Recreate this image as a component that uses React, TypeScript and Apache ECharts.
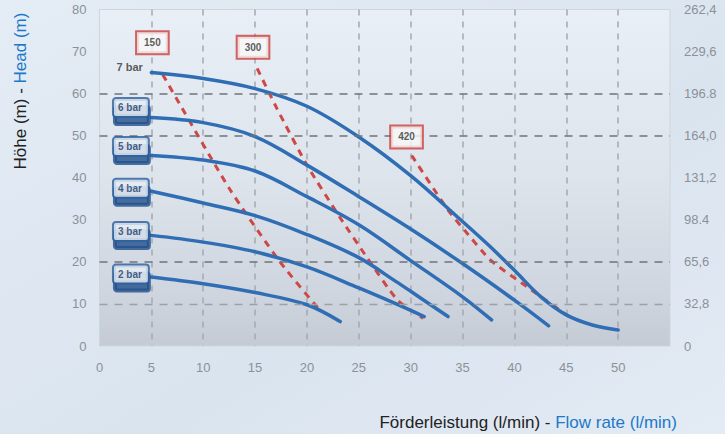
import React, { useEffect, useRef } from "react";
import * as echarts from "echarts";

// ---- data ----
const barNames = ["7 bar", "6 bar", "5 bar", "4 bar", "3 bar", "2 bar"];
const bar7 = [[5, 65], [10, 63.6], [15, 61.2], [20, 57], [25, 49.7], [30, 40.5], [35, 29.6], [37.5, 24], [40, 18], [42.5, 11.8], [45, 7.4], [47.5, 5], [50, 3.8]];
const bar6 = [[5, 54.3], [10, 53.1], [15, 49.8], [20, 43], [25, 35.5], [30, 27.8], [35, 19.6], [40, 10.9], [43.3, 4.8]];
const bar5 = [[5, 45.3], [10, 44.2], [15, 41.6], [20, 35.5], [25, 28.8], [30, 20.3], [35, 11.7], [37.8, 6.2]];
const bar4 = [[5, 36.8], [10, 34], [15, 31], [20, 26.5], [25, 21], [28.6, 15.3], [30, 13], [33.6, 7]];
const bar3 = [[5, 26.3], [10, 24.7], [15, 22.4], [20, 18.8], [25, 13.8], [28.6, 10], [31.3, 7]];
const bar2 = [[5, 16.4], [10, 14.8], [15, 12.7], [20, 9.8], [23.2, 5.8]];
const curves = [bar7, bar6, bar5, bar4, bar3, bar2];

const air150 = [[6.1, 64.5], [12.5, 37.5], [17.4, 20], [21.4, 8]];
const air300 = [[15.2, 66], [17.1, 56.5], [20, 43], [23.2, 30.5], [25.8, 21], [28.7, 11], [31.2, 6.6]];
const air420 = [[30.1, 45.3], [33.6, 32.3], [35.2, 27.5], [37.7, 20.4], [41.2, 14.1], [45.7, 6.2]];
const airLines = [air150, air300, air420];

const airLabels = ["150", "300", "420"];
const airLabelX = [5.1, 14.8, 29.6];
const airLabelY = [72.1, 71, 49.7];

const headFeet = ["0", "32,8", "65,6", "98.4", "131,2", "164,0", "196.8", "229,6", "262,4"];
const darkGridY = [20, 50, 60];
const lightGridY = [10];

// ---- style ----
const FONT = "'Liberation Sans', Arial, sans-serif";
const BLUE = "#2f6eb4";
const RED = "#cf4747";
const TICK = "#8b9198";
const badgeLift = [6, 10, 9, 3, 4, 3];

export default function App() {
  const ref = useRef<HTMLDivElement>(null);
  useEffect(() => {
    document.body.style.margin = "0";
    const chart = echarts.init(ref.current!, null, { renderer: "svg" });

    const curveSeries = curves.map((c, i) => ({
      type: "line",
      name: barNames[i],
      data: c,
      smooth: 0.35,
      showSymbol: false,
      symbol: "none",
      z: 4,
      lineStyle: { color: BLUE, width: 3.5, cap: "round" },
    }));

    const airSeries = airLines.map((c) => ({
      type: "line",
      data: c,
      smooth: 0.2,
      showSymbol: false,
      symbol: "none",
      z: 3,
      lineStyle: { color: RED, width: 3, type: [7, 6] },
    }));

    const badgeData = curves.map((c, i) => {
      const first = c[0];
      const plain = i === 0;
      return {
        value: first,
        label: plain
          ? {
              show: true,
              position: "left",
              distance: 8,
              offset: [0, -badgeLift[i]],
              formatter: barNames[i],
              color: "#333",
              fontSize: 11,
              fontWeight: "bold",
              fontFamily: FONT,
            }
          : {
              show: true,
              position: "left",
              distance: 3,
              offset: [0, -badgeLift[i]],
              formatter: barNames[i],
              color: "#173b6c",
              fontSize: 10,
              fontWeight: "bold",
              fontFamily: FONT,
              backgroundColor: "#e6edf5",
              borderColor: "#2c5f9e",
              borderWidth: 2,
              borderRadius: 2,
              padding: [4, 6, 3, 4],
              shadowColor: "#224f8b",
              shadowOffsetX: 1,
              shadowOffsetY: 8,
              shadowBlur: 0,
            },
      };
    });

    const boxData = airLabels.map((t, i) => ({
      value: [airLabelX[i], airLabelY[i]],
      label: {
        show: true,
        position: "inside",
        formatter: t,
        color: "#333",
        fontSize: 10,
        fontWeight: "bold",
        fontFamily: FONT,
        backgroundColor: "#f7f7f7",
        borderColor: "#c9403f",
        borderWidth: 2,
        borderRadius: 0,
        padding: [6, 7, 5, 7],
      },
    }));

    const gridLineSeries = {
      type: "line",
      data: [],
      z: 2,
      silent: true,
      markLine: {
        silent: true,
        symbol: ["none", "none"],
        label: { show: false },
        animation: false,
        data: [
          ...darkGridY.map((v) => ({ yAxis: v, lineStyle: { color: "#6f747a", width: 1.5, type: [8, 7] } })),
          ...lightGridY.map((v) => ({ yAxis: v, lineStyle: { color: "#9aa1a9", width: 1.3, type: [8, 7] } })),
        ],
      },
    };

    chart.setOption({
      animation: false,
      backgroundColor: new echarts.graphic.LinearGradient(0, 0, 1, 1, [
        { offset: 0, color: "#e4ecf5" },
        { offset: 0.6, color: "#dae4ef" },
        { offset: 1, color: "#e3ebf4" },
      ]),
      textStyle: { fontFamily: FONT },
      grid: {
        left: 99.5,
        right: 55,
        top: 9.5,
        bottom: 88,
        show: true,
        borderColor: "#cfd5dc",
        borderWidth: 1,
        backgroundColor: new echarts.graphic.LinearGradient(0, 0, 0, 1, [
          { offset: 0, color: "#e9eff6" },
          { offset: 0.5, color: "#dde4ec" },
          { offset: 0.85, color: "#ced5de" },
          { offset: 1, color: "#c4cbd5" },
        ]),
      },
      xAxis: {
        type: "value",
        min: 0,
        max: 55,
        interval: 5,
        axisLine: { show: false },
        axisTick: { show: false },
        axisLabel: {
          color: TICK,
          fontSize: 13,
          margin: 15,
          fontFamily: FONT,
          showMaxLabel: false,
          formatter: (v: number) => (v >= 55 ? "" : String(v)),
        },
        splitLine: {
          show: true,
          showMinLine: false,
          showMaxLine: false,
          lineStyle: { color: "#a2a9b1", width: 1.5, type: [6, 6] },
        },
      },
      yAxis: [
        {
          type: "value",
          min: 0,
          max: 80,
          interval: 10,
          axisLine: { show: false },
          axisTick: { show: false },
          splitLine: { show: false },
          axisLabel: { color: TICK, fontSize: 13, margin: 13, fontFamily: FONT },
        },
        {
          type: "value",
          position: "right",
          min: 0,
          max: 80,
          interval: 10,
          axisLine: { show: false },
          axisTick: { show: false },
          splitLine: { show: false },
          axisLabel: {
            color: TICK,
            fontSize: 13,
            margin: 14,
            fontFamily: FONT,
            formatter: (v: number) => headFeet[Math.round(v / 10)] ?? "",
          },
        },
      ],
      graphic: [
        {
          type: "text",
          x: 20,
          y: 91,
          rotation: Math.PI / 2,
          style: {
            text: "{a|Höhe (m) - }{b|Head (m)}",
            align: "center",
            verticalAlign: "middle",
            fontFamily: FONT,
            fontSize: 17,
            rich: {
              a: { fill: "#222", fontSize: 17, fontFamily: FONT },
              b: { fill: "#1d78c8", fontSize: 17, fontFamily: FONT },
            },
          },
        },
        {
          type: "text",
          x: 677,
          y: 422,
          style: {
            text: "{a|Förderleistung (l/min) - }{b|Flow rate (l/min)}",
            align: "right",
            verticalAlign: "middle",
            fontFamily: FONT,
            fontSize: 17,
            rich: {
              a: { fill: "#222", fontSize: 17, fontFamily: FONT },
              b: { fill: "#1d78c8", fontSize: 17, fontFamily: FONT },
            },
          },
        },
      ],
      series: [
        gridLineSeries,
        ...airSeries,
        ...curveSeries,
        {
          type: "scatter",
          data: badgeData,
          symbol: "circle",
          symbolSize: 1,
          itemStyle: { color: "rgba(0,0,0,0)" },
          z: 6,
          silent: true,
        },
        {
          type: "scatter",
          data: boxData,
          symbol: "circle",
          symbolSize: 1,
          itemStyle: { color: "rgba(0,0,0,0)" },
          z: 6,
          silent: true,
        },
      ],
    });
    return () => chart.dispose();
  }, []);
  return <div ref={ref} style={{ width: 725, height: 434 }} />;
}
